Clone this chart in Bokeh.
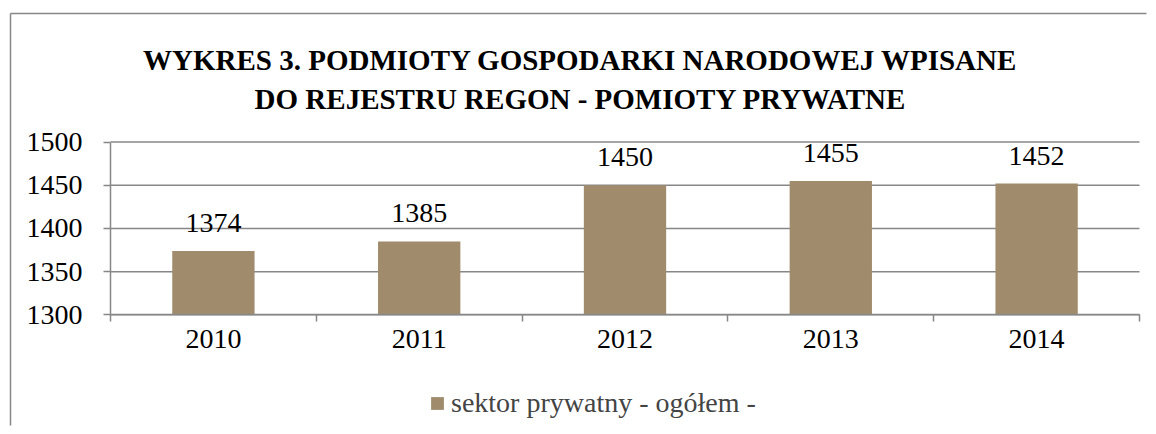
from bokeh.plotting import figure
from bokeh.models import (ColumnDataSource, Range1d, FixedTicker, LabelSet, Label,
                          Legend, LegendItem, LinearAxis)
from bokeh.embed import file_html
from bokeh.resources import INLINE

years = ["2010", "2011", "2012", "2013", "2014"]
values = [1374, 1385, 1450, 1455, 1452]
y_ticks = [1300, 1350, 1400, 1450, 1500]
title_lines = ["WYKRES 3. PODMIOTY GOSPODARKI NARODOWEJ WPISANE",
               "DO REJESTRU REGON - POMIOTY PRYWATNE"]
series_name = "sektor prywatny - ogółem -"

FONT = "Liberation Serif"
BAR = "#A08C6C"
GRAY = "#878787"

W, H = 1148, 426
# pixel layout of the plot area
PL, PR, PT, PB = 110, 1139, 141.6, 314.3
n = len(years)
y0, y1 = y_ticks[0], y_ticks[-1]
ux = n / (PR - PL)          # data units per px (x)
uy = (y1 - y0) / (PB - PT)  # data units per px (y)


def dx(px):
    return (px - PL) * ux


def dy(py):
    return y1 + (PT - py) * uy


xs = [i + 0.5 for i in range(n)]
src = ColumnDataSource(dict(x=xs, top=values, lab=[str(v) for v in values]))

p = figure(width=W, height=H, output_backend="svg", toolbar_location=None,
           x_range=Range1d(dx(0), dx(W)), y_range=Range1d(dy(H), dy(0)),
           min_border=0, min_border_left=0, min_border_right=0,
           min_border_top=0, min_border_bottom=0,
           x_axis_type=None, y_axis_type=None)
p.outline_line_color = None
p.background_fill_color = "white"
p.border_fill_color = "white"
p.xgrid.grid_line_color = None
p.ygrid.grid_line_color = None

# outer chart-area border (top and left edges; right/bottom run off the page)
bsrc = ColumnDataSource(dict(x0=[dx(10), dx(10)], y0=[dy(13), dy(13)],
                             x1=[dx(W - 2), dx(10)], y1=[dy(13), dy(H - 1)]))
p.segment(x0="x0", y0="y0", x1="x1", y1="y1", source=bsrc,
          line_color=GRAY, line_width=1.5)

# gridlines limited to the plot area
gsrc = ColumnDataSource(dict(y=y_ticks, x0=[0] * len(y_ticks), x1=[n] * len(y_ticks)))
p.segment(x0="x0", x1="x1", y0="y", y1="y", source=gsrc,
          line_color=GRAY, line_width=1.5)

r = p.vbar(x="x", top="top", bottom=y0, width=0.4, source=src,
           fill_color=BAR, line_color=None)

# axes
xaxis = LinearAxis(fixed_location=y0, bounds=(0, n))
xaxis.ticker = FixedTicker(ticks=xs, minor_ticks=list(range(n + 1)))
xaxis.major_label_overrides = {x: y for x, y in zip(xs, years)}
xaxis.major_tick_out = 0
xaxis.major_tick_in = 0
xaxis.major_tick_line_color = None
xaxis.minor_tick_out = 7
xaxis.minor_tick_in = 0
xaxis.minor_tick_line_color = GRAY
xaxis.minor_tick_line_width = 1.5
xaxis.major_label_standoff = 8
p.add_layout(xaxis, "below")

yaxis = LinearAxis(fixed_location=0, bounds=(y0, y1))
yaxis.ticker = FixedTicker(ticks=y_ticks, minor_ticks=[])
yaxis.major_tick_out = 7
yaxis.major_tick_in = 0
yaxis.major_tick_line_color = GRAY
yaxis.major_tick_line_width = 1.5
yaxis.minor_tick_line_color = None
yaxis.major_label_standoff = 21
p.add_layout(yaxis, "left")

for ax in (xaxis, yaxis):
    ax.axis_line_color = GRAY
    ax.axis_line_width = 1.5
    ax.major_label_text_font = FONT
    ax.major_label_text_font_size = "28px"
    ax.major_label_text_color = "black"

labels = LabelSet(x="x", y="top", text="lab", source=src, text_align="center",
                  text_baseline="bottom", y_offset=19, text_font=FONT,
                  text_font_size="28px", text_color="black")
p.add_layout(labels)

# title
for py, line in zip([59, 98], title_lines):
    p.add_layout(Label(x=dx(580), y=dy(py), text=line, text_align="center",
                       text_baseline="middle", text_font=FONT,
                       text_font_size="29px", text_font_style="bold",
                       text_color="black"))

legend = Legend(items=[LegendItem(label=series_name, renderers=[r])],
                location=(429, 7), orientation="horizontal",
                glyph_width=16, glyph_height=16, label_standoff=6,
                label_text_font=FONT, label_text_font_size="28px",
                padding=0, margin=0, border_line_color=None,
                background_fill_alpha=0)
p.add_layout(legend, "center")

open("out.html", "w").write(file_html(p, INLINE))
